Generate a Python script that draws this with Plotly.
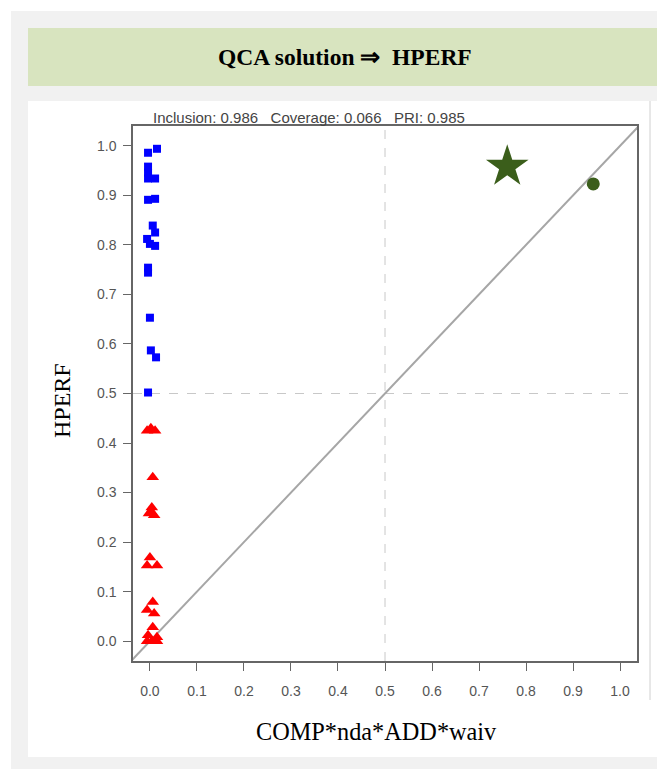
import plotly.graph_objects as go

# ---- data ----
blue_x = [0.015, -0.004, -0.004, -0.004, -0.004, 0.011, -0.004, 0.011, 0.006, 0.011,
          -0.006, 0.0, 0.011, -0.004, -0.004, 0.0, 0.002, 0.013, -0.004]
blue_y = [0.994, 0.986, 0.958, 0.946, 0.934, 0.934, 0.891, 0.893, 0.839, 0.825,
          0.812, 0.802, 0.798, 0.754, 0.744, 0.653, 0.587, 0.573, 0.502]
red_x = [-0.006, 0.002, 0.011, 0.006, 0.004, -0.002, 0.009, 0.002, 0.0, -0.006, 0.015,
         0.006, -0.006, 0.009, 0.006, -0.004, 0.015, 0.004, -0.006, 0.015]
red_y = [0.425, 0.430, 0.425, 0.331, 0.270, 0.258, 0.254, 0.262, 0.169, 0.153, 0.153,
         0.079, 0.063, 0.056, 0.028, 0.012, 0.008, 0.0, 0.0, 0.0]
star_x = [0.76]
star_y = [0.958]
circle_x = [0.943]
circle_y = [0.923]
tick_vals = [0.0, 0.1, 0.2, 0.3, 0.4, 0.5, 0.6, 0.7, 0.8, 0.9, 1.0]
tick_text = ["0.0", "0.1", "0.2", "0.3", "0.4", "0.5", "0.6", "0.7", "0.8", "0.9", "1.0"]
x_range = [-0.036, 1.036]
y_range = [-0.04, 1.04]
title_text = "QCA solution ⇒  HPERF"
stats_text = "Inclusion: 0.986   Coverage: 0.066   PRI: 0.985"
x_title = "COMP*nda*ADD*waiv"
y_title = "HPERF"

OFF = 8  # default body margin of the page
W, H = 665 - OFF, 769 - OFF
L, R, T, B = 133 - OFF, 637 - OFF, 126 - OFF, 661 - OFF  # plot box in figure pixels


def px(x):
    return (x - OFF - L) / (R - L)


def py(y):
    return (B - (y - OFF)) / (B - T)


fig = go.Figure()

diag = [min(x_range[0], y_range[0]) - 0.05, max(x_range[1], y_range[1]) + 0.05]
fig.add_trace(go.Scatter(x=diag, y=diag, mode="lines",
                         line=dict(color="#a6a6a6", width=2), hoverinfo="skip"))
fig.add_trace(go.Scatter(x=blue_x, y=blue_y, mode="markers",
                         marker=dict(symbol="square", size=8, color="#0000ff")))
fig.add_trace(go.Scatter(x=red_x, y=red_y, mode="markers",
                         marker=dict(symbol="triangle-up", size=11, color="#ff0000")))
fig.add_trace(go.Scatter(x=star_x, y=star_y, mode="markers",
                         marker=dict(symbol="star", size=32, color="#3b5e1b")))
fig.add_trace(go.Scatter(x=circle_x, y=circle_y, mode="markers",
                         marker=dict(symbol="circle", size=13, color="#3b5e1b")))

shapes = [
    # gray page background
    dict(type="rect", xref="paper", yref="paper", x0=px(11), x1=px(680), y0=py(11), y1=py(780),
         fillcolor="#f1f1f1", line=dict(width=0), layer="below"),
    # green header
    dict(type="rect", xref="paper", yref="paper", x0=px(28), x1=px(680), y0=py(28), y1=py(86),
         fillcolor="#d8e4bf", line=dict(width=0), layer="below"),
    # white panel
    dict(type="rect", xref="paper", yref="paper", x0=px(28), x1=px(680), y0=py(101), y1=py(757),
         fillcolor="#ffffff", line=dict(width=0), layer="below"),
    # right separator
    dict(type="line", xref="paper", yref="paper", x0=px(650), x1=px(650), y0=py(101), y1=py(700),
         line=dict(color="#d0d0d0", width=1), layer="below"),
    # dashed reference lines
    dict(type="line", xref="x", yref="paper", x0=0.5, x1=0.5, y0=0, y1=1,
         line=dict(color="#c8c8c8", width=1, dash="dash"), layer="below"),
    dict(type="line", xref="paper", yref="y", x0=0, x1=1, y0=0.5, y1=0.5,
         line=dict(color="#c8c8c8", width=1, dash="dash"), layer="below"),
]

annotations = [
    dict(text="<b>" + title_text + "</b>", xref="paper", yref="paper", x=px(345), y=py(57),
         xanchor="center", yanchor="middle", showarrow=False,
         font=dict(family="Liberation Serif", size=23.5, color="#000000")),
    dict(text=stats_text, xref="paper", yref="paper", x=px(151), y=py(117),
         xanchor="left", yanchor="middle", showarrow=False,
         font=dict(family="Liberation Sans", size=15, color="#444444")),
    dict(text=x_title, xref="paper", yref="paper", x=px(376), y=py(731),
         xanchor="center", yanchor="middle", showarrow=False,
         font=dict(family="Liberation Serif", size=24.3, color="#000000")),
    dict(text=y_title, xref="paper", yref="paper", x=px(62), y=py(401),
         xanchor="center", yanchor="middle", showarrow=False, textangle=-90,
         font=dict(family="Liberation Serif", size=24, color="#000000")),
]

axis_common = dict(
    tickvals=tick_vals, ticktext=tick_text, showgrid=False, zeroline=False,
    showline=True, mirror=True, linecolor="#666666", linewidth=1.5,
    ticks="outside", ticklen=8, tickcolor="#666666", tickwidth=1,
    tickfont=dict(family="Liberation Sans", size=14, color="#555555"),
)

fig.update_layout(
    width=W, height=H,
    margin=dict(l=L, r=W - R, t=T, b=H - B, pad=0),
    paper_bgcolor="#ffffff", plot_bgcolor="#ffffff",
    showlegend=False,
    shapes=shapes, annotations=annotations,
    xaxis=dict(range=x_range, ticklabelstandoff=8, **axis_common),
    yaxis=dict(range=y_range, ticklabelstandoff=4, **axis_common),
)

fig.write_html("out.html")
